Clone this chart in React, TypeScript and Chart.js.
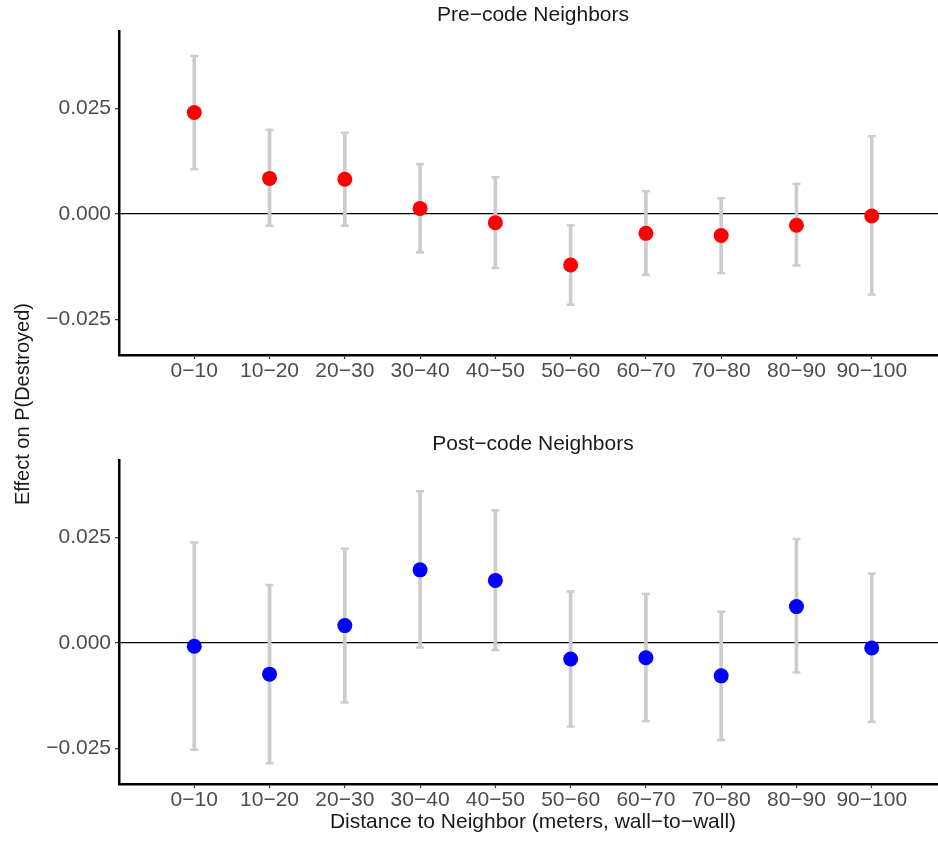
import React, { useEffect, useRef } from "react";
import { Chart, registerables } from "chart.js";

Chart.register(...registerables);

const categories = ["0−10", "10−20", "20−30", "30−40", "40−50", "50−60", "60−70", "70−80", "80−90", "90−100"];

const preEstimate = [0.024, 0.0084, 0.0082, 0.0013, -0.0021, -0.0121, -0.0046, -0.0051, -0.0027, -0.0005];
const preLower = [0.0106, -0.0028, -0.0028, -0.0091, -0.0128, -0.0215, -0.0144, -0.014, -0.0122, -0.0191];
const preUpper = [0.0374, 0.0199, 0.0192, 0.0118, 0.0087, -0.0027, 0.0054, 0.0037, 0.0071, 0.0184];

const postEstimate = [-0.0008, -0.0074, 0.0041, 0.0173, 0.0148, -0.0038, -0.0035, -0.0078, 0.0086, -0.0012];
const postLower = [-0.0253, -0.0285, -0.0141, -0.0011, -0.0017, -0.0198, -0.0185, -0.023, -0.007, -0.0187];
const postUpper = [0.0238, 0.0137, 0.0223, 0.0359, 0.0314, 0.0122, 0.0116, 0.0074, 0.0246, 0.0164];

const yTicks = [-0.025, 0, 0.025];

const FONT = '"Liberation Sans", Arial, Helvetica, sans-serif';

const panelTitlePlugin = {
  id: "panelTitle",
  afterDraw(chart: any, _args: any, opts: any) {
    if (!opts || !opts.text) return;
    const { ctx, chartArea } = chart;
    ctx.save();
    ctx.font = `${opts.size}px ${FONT}`;
    ctx.fillStyle = opts.color;
    ctx.textAlign = "center";
    ctx.textBaseline = "alphabetic";
    ctx.fillText(opts.text, (chartArea.left + chartArea.right) / 2, opts.y);
    ctx.restore();
  },
};

function fmtY(v: number) {
  if (Math.abs(v) < 1e-12) return "0.000";
  return (v < 0 ? "−" : "") + Math.abs(v).toFixed(3);
}

type PanelProps = {
  title: string;
  est: number[];
  lo: number[];
  hi: number[];
  color: string;
  top: number;
  height: number;
  xAxisHeight: number;
  xTitle?: string;
};

function Panel({ title, est, lo, hi, color, top, height, xAxisHeight, xTitle }: PanelProps) {
  const ref = useRef<HTMLCanvasElement | null>(null);
  useEffect(() => {
    if (!ref.current) return;
    const chart = new Chart(ref.current, {
      type: "scatter",
      data: {
        datasets: [
          {
            type: "scatter",
            data: est.map((v, i) => ({ x: i + 1, y: v })),
            pointRadius: 7.5,
            pointBackgroundColor: color,
            pointBorderWidth: 0,
            order: 0,
          } as any,
          {
            type: "scatter",
            data: [...lo.map((v, i) => ({ x: i + 1, y: v })), ...hi.map((v, i) => ({ x: i + 1, y: v }))],
            pointStyle: "line",
            pointRadius: 4,
            pointBorderColor: "#CCCCCC",
            pointBorderWidth: 2.5,
            order: 1,
          } as any,
          {
            type: "bar",
            data: lo.map((v, i) => ({ x: i + 1, y: [v, hi[i]] })),
            backgroundColor: "#CCCCCC",
            barThickness: 3,
            borderWidth: 0,
            order: 2,
          } as any,
        ],
      },
      options: {
        responsive: false,
        animation: false,
        events: [],
        layout: { autoPadding: false, padding: { top: 31, left: 0, right: 0, bottom: 0 } },
        plugins: {
          legend: { display: false },
          tooltip: { enabled: false },
          panelTitle: { text: title, size: 21, color: "#1a1a1a", y: 21 },
        } as any,
        scales: {
          x: {
            type: "linear",
            min: 0,
            max: 11,
            offset: false,
            afterBuildTicks: (s: any) => {
              s.ticks = categories.map((_, i) => ({ value: i + 1 }));
            },
            afterFit: (s: any) => {
              s.height = xAxisHeight;
              s.paddingLeft = 0;
              s.paddingRight = 0;
            },
            ticks: {
              autoSkip: false,
              maxRotation: 0,
              padding: 0,
              color: "#4D4D4D",
              font: { family: FONT, size: 21 },
              callback: (v: any) => categories[Math.round(Number(v)) - 1],
            },
            grid: {
              offset: false,
              drawOnChartArea: false,
              drawTicks: true,
              tickLength: 4,
              tickColor: "#333333",
              tickWidth: 1.2,
            },
            border: { display: true, color: "#000000", width: 2.5 },
            title: xTitle
              ? {
                  display: true,
                  text: xTitle,
                  color: "#1a1a1a",
                  font: { family: FONT, size: 21 },
                  padding: { top: 0, bottom: 14 },
                }
              : { display: false },
          },
          y: {
            type: "linear",
            min: -0.0334,
            max: 0.0433,
            afterBuildTicks: (s: any) => {
              s.ticks = yTicks.map((v) => ({ value: v }));
            },
            afterFit: (s: any) => {
              s.width = 119;
              s.paddingTop = 0;
              s.paddingBottom = 0;
            },
            ticks: {
              padding: 4,
              color: "#4D4D4D",
              font: { family: FONT, size: 21 },
              callback: (v: any) => fmtY(Number(v)),
            },
            grid: {
              drawTicks: true,
              tickLength: 4,
              tickColor: "#333333",
              tickWidth: 1.2,
              lineWidth: 1.3,
              color: (ctx: any) => (ctx.tick && Math.abs(ctx.tick.value) < 1e-12 ? "#000000" : "rgba(0,0,0,0)"),
            },
            border: { display: true, color: "#000000", width: 2.5 },
          },
        },
      } as any,
      plugins: [panelTitlePlugin],
    });
    return () => chart.destroy();
  }, []);
  return (
    <canvas
      ref={ref}
      width={947}
      height={height}
      style={{ position: "absolute", left: 0, top, width: 947, height, display: "block" }}
    />
  );
}

export default function App() {
  return (
    <div
      style={{
        position: "absolute",
        left: 0,
        top: 0,
        width: 938,
        height: 849,
        overflow: "hidden",
        background: "#ffffff",
      }}
    >
      <Panel
        title="Pre−code Neighbors"
        est={preEstimate}
        lo={preLower}
        hi={preUpper}
        color="#FF0000"
        top={0}
        height={400}
        xAxisHeight={45}
      />
      <Panel
        title="Post−code Neighbors"
        est={postEstimate}
        lo={postLower}
        hi={postUpper}
        color="#0000FF"
        top={429}
        height={420}
        xAxisHeight={65}
        xTitle="Distance to Neighbor (meters, wall−to−wall)"
      />
      <div
        style={{
          position: "absolute",
          left: 22,
          top: 404,
          width: 320,
          textAlign: "center",
          transform: "translate(-50%, -50%) rotate(-90deg)",
          fontFamily: FONT,
          fontSize: 20,
          color: "#1a1a1a",
          whiteSpace: "nowrap",
          lineHeight: "24px",
        }}
      >
        Effect on P(Destroyed)
      </div>
    </div>
  );
}
